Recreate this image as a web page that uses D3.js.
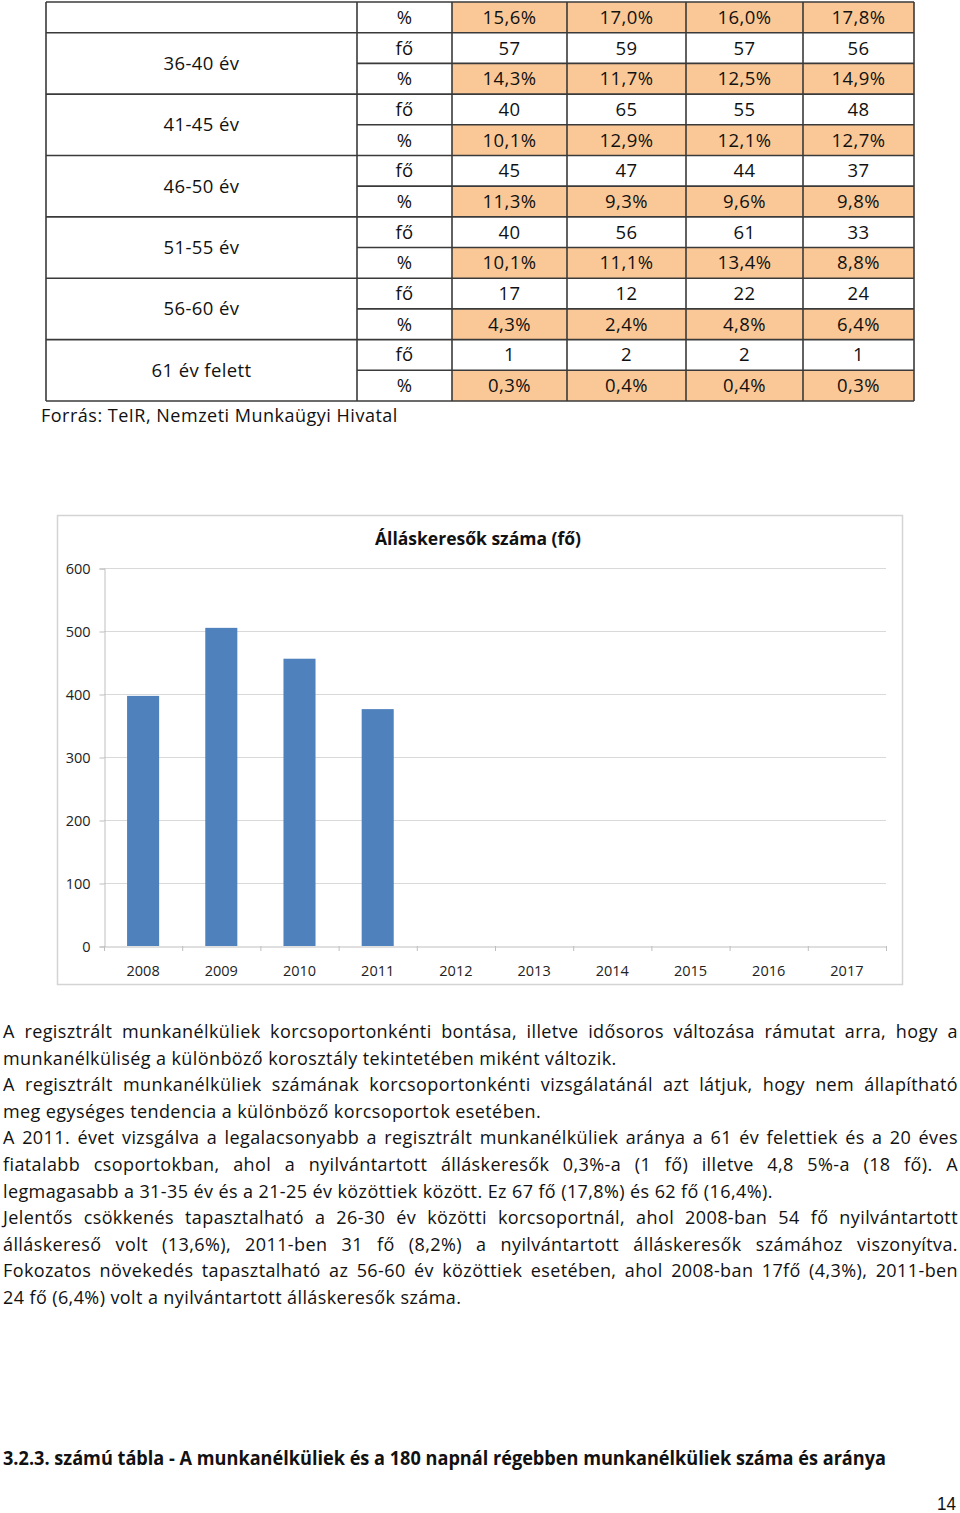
<!DOCTYPE html>
<html><head><meta charset="utf-8">
<script src="https://cdn.jsdelivr.net/npm/d3@7"></script>
<style>
html,body{margin:0;padding:0;background:#fff;}
svg{display:block;}
</style></head>
<body>
<svg id="page" width="960" height="1513"></svg>
<script>
// ---------- DATA ----------
const tableYears = ['2008','2009','2010','2011'];
const topGroupPct = ['15,6%','17,0%','16,0%','17,8%'];
const ageGroups = ['36-40 év','41-45 év','46-50 év','51-55 év','56-60 év','61 év felett'];
const groupCounts = [[57,59,57,56],[40,65,55,48],[45,47,44,37],[40,56,61,33],[17,12,22,24],[1,2,2,1]];
const groupPcts = [
  ['14,3%','11,7%','12,5%','14,9%'],
  ['10,1%','12,9%','12,1%','12,7%'],
  ['11,3%','9,3%','9,6%','9,8%'],
  ['10,1%','11,1%','13,4%','8,8%'],
  ['4,3%','2,4%','4,8%','6,4%'],
  ['0,3%','0,4%','0,4%','0,3%']
];
const sourceNote = 'Forrás: TeIR, Nemzeti Munkaügyi Hivatal';

const chartTitle = 'Álláskeresők száma (fő)';
const chartYears = ['2008','2009','2010','2011','2012','2013','2014','2015','2016','2017'];
const jobSeekers = [397, 505, 456, 376];
const yTicks = [0,100,200,300,400,500,600];

const paragraphLines = [
  ['A regisztrált munkanélküliek korcsoportonkénti bontása, illetve idősoros változása rámutat arra, hogy a', true],
  ['munkanélküliség a különböző korosztály tekintetében miként változik.', false],
  ['A regisztrált munkanélküliek számának korcsoportonkénti vizsgálatánál azt látjuk, hogy nem állapítható', true],
  ['meg egységes tendencia a különböző korcsoportok esetében.', false],
  ['A 2011. évet vizsgálva a legalacsonyabb a regisztrált munkanélküliek aránya a 61 év felettiek és a 20 éves', true],
  ['fiatalabb csoportokban, ahol a nyilvántartott álláskeresők 0,3%-a (1 fő) illetve 4,8 5%-a (18 fő). A', true],
  ['legmagasabb a 31-35 év és a 21-25 év közöttiek között. Ez 67 fő (17,8%) és 62 fő (16,4%).', false],
  ['Jelentős csökkenés tapasztalható a 26-30 év közötti korcsoportnál, ahol 2008-ban 54 fő nyilvántartott', true],
  ['álláskereső volt (13,6%), 2011-ben 31 fő (8,2%) a nyilvántartott álláskeresők számához viszonyítva.', true],
  ['Fokozatos növekedés tapasztalható az 56-60 év közöttiek esetében, ahol 2008-ban 17fő (4,3%), 2011-ben', true],
  ['24 fő (6,4%) volt a nyilvántartott álláskeresők száma.', false]
];
const nextTableTitle = '3.2.3. számú tábla - A munkanélküliek és a 180 napnál régebben munkanélküliek száma és aránya';
const pageNumber = '14';

// ---------- DRAW ----------
const FONT = '"Open Sans", Lato, sans-serif';
const svg = d3.select('#page');

// ----- Table -----
const colX = [46, 357, 452, 567, 686, 803, 914];
const tTop = 2, tBottom = 401, nRows = 13;
const rowY = d3.scaleLinear().domain([0, nRows]).range([tTop, tBottom]);
const orange = '#FAC896';
const lineCol = '#3a3a3a';
const tg = svg.append('g').attr('font-family', FONT).attr('font-size', 18.5)
  .attr('letter-spacing', 0.4).attr('fill', '#111');

const rows = [['%', topGroupPct]];
groupCounts.forEach((c, i) => { rows.push(['fő', c.map(String)]); rows.push(['%', groupPcts[i]]); });

rows.forEach((r, i) => {
  if (r[0] === '%') {
    tg.append('rect').attr('x', colX[2]).attr('y', rowY(i)).attr('width', colX[6] - colX[2]).attr('height', rowY(i+1) - rowY(i)).attr('fill', orange);
  }
});
rows.forEach((r, i) => {
  const cy = (rowY(i) + rowY(i+1)) / 2 + 6.5;
  tg.append('text').attr('x', (colX[1] + colX[2]) / 2).attr('y', cy).attr('text-anchor', 'middle').text(r[0]);
  r[1].forEach((v, j) => {
    tg.append('text').attr('x', (colX[2+j] + colX[3+j]) / 2).attr('y', cy).attr('text-anchor', 'middle').text(v);
  });
});
ageGroups.forEach((g, i) => {
  const y0 = rowY(1 + 2*i), y1 = rowY(3 + 2*i);
  tg.append('text').attr('x', (colX[0] + colX[1]) / 2).attr('y', (y0 + y1) / 2 + 6.5).attr('text-anchor', 'middle').text(g);
});
const lg = svg.append('g').attr('stroke', lineCol).attr('stroke-width', 1.6).attr('fill', 'none');
for (let i = 0; i <= nRows; i++) {
  const y = rowY(i);
  const groupLine = (i === 0 || (i % 2 === 1) || i === nRows);
  const x0 = groupLine ? colX[0] : colX[1];
  lg.append('line').attr('x1', x0).attr('x2', colX[6]).attr('y1', y).attr('y2', y);
}
colX.forEach(x => lg.append('line').attr('x1', x).attr('x2', x).attr('y1', tTop).attr('y2', tBottom));

svg.append('text').attr('x', 41).attr('y', 422).attr('font-family', FONT).attr('font-size', 18)
  .attr('letter-spacing', 0.5).attr('fill', '#111').text(sourceNote);

// ----- Chart -----
const cg = svg.append('g').attr('font-family', FONT);
cg.append('rect').attr('x', 57.5).attr('y', 515.5).attr('width', 845).attr('height', 469).attr('fill', '#fff').attr('stroke', '#d4d4d4').attr('stroke-width', 1.5);
const plot = {l: 104, r: 886, t: 568, b: 946};
const x = d3.scaleBand().domain(chartYears).range([plot.l, plot.r]).paddingInner(0.59).paddingOuter(0.295);
const xb = d3.scaleBand().domain(chartYears).range([plot.l, plot.r]);
const y = d3.scaleLinear().domain([0, 600]).range([plot.b, plot.t]);

cg.append('g').selectAll('line').data(yTicks.filter(d => d > 0)).join('line')
  .attr('x1', plot.l).attr('x2', plot.r).attr('y1', d => y(d) + 0.5).attr('y2', d => y(d) + 0.5)
  .attr('stroke', '#d9d9d9').attr('stroke-width', 1);

const yAxis = d3.axisLeft(y).tickValues(yTicks).tickSize(5).tickPadding(9).tickFormat(d3.format('d'));
const ya = cg.append('g').attr('transform', `translate(${plot.l + 0.5},0.5)`).call(yAxis);
ya.select('.domain').attr('stroke', '#bfbfbf');
ya.selectAll('.tick line').attr('stroke', '#bfbfbf');
ya.selectAll('.tick text').attr('font-family', FONT).attr('font-size', 14.5).attr('fill', '#222');

const xAxis = d3.axisBottom(xb).tickSize(0).tickPadding(19);
const xa = cg.append('g').attr('transform', `translate(0,${plot.b + 0.5})`).call(xAxis);
xa.select('.domain').attr('stroke', '#bfbfbf');
xa.selectAll('.tick text').attr('font-family', FONT).attr('font-size', 14.5).attr('fill', '#222');
const bounds = chartYears.map(d => xb(d)).concat([plot.r]);
cg.append('g').selectAll('line').data(bounds).join('line')
  .attr('x1', d => d + 0.5).attr('x2', d => d + 0.5).attr('y1', plot.b).attr('y2', plot.b + 5)
  .attr('stroke', '#bfbfbf');

cg.append('g').selectAll('rect').data(jobSeekers).join('rect')
  .attr('x', (d, i) => x(chartYears[i])).attr('width', x.bandwidth())
  .attr('y', d => y(d)).attr('height', d => y(0) - y(d))
  .attr('fill', '#4F81BD');

cg.append('text').attr('x', 478).attr('y', 545).attr('text-anchor', 'middle')
  .attr('font-weight', 'bold').attr('font-size', 17.5).attr('fill', '#111').text(chartTitle);

// ----- Paragraphs -----
const pg = svg.append('g').attr('font-family', FONT).attr('font-size', 18)
  .attr('letter-spacing', 0.4).attr('fill', '#111');
const pLeft = 3, pRight = 958, pBase = 1038, pStep = 26.6;
const lineY = d3.scaleLinear().domain([0, 1]).range([pBase, pBase + pStep]);
paragraphLines.forEach(([txt, just], i) => {
  const yy = lineY(i);
  if (!just) {
    pg.append('text').attr('x', pLeft).attr('y', yy).text(txt);
    return;
  }
  const words = txt.split(' ');
  const t = pg.append('text').attr('y', yy);
  const spans = words.map(w => t.append('tspan').text(w));
  const widths = spans.map(s => s.node().getComputedTextLength());
  const total = d3.sum(widths);
  let gap = (pRight - pLeft - total) / (words.length - 1);
  if (gap < 3) {
    const shrink = (pRight - pLeft - 3 * (words.length - 1)) / total;
    t.attr('font-size', 18 * shrink);
    const w2 = spans.map(s => s.node().getComputedTextLength());
    gap = (pRight - pLeft - d3.sum(w2)) / (words.length - 1);
    let cx = pLeft;
    spans.forEach((s, k) => { s.attr('x', cx); cx += w2[k] + gap; });
    return;
  }
  let cx = pLeft;
  spans.forEach((s, k) => { s.attr('x', cx); cx += widths[k] + gap; });
});

// ----- Bottom heading -----
svg.append('text').attr('x', 3).attr('y', 1465).attr('font-family', FONT).attr('font-weight', 'bold')
  .attr('font-size', 19).attr('fill', '#111').attr('textLength', 883).attr('lengthAdjust', 'spacingAndGlyphs')
  .text(nextTableTitle);
svg.append('text').attr('x', 937).attr('y', 1510).attr('font-family', '"Liberation Sans", sans-serif')
  .attr('font-size', 18).attr('fill', '#111').attr('textLength', 19).attr('lengthAdjust', 'spacingAndGlyphs')
  .text(pageNumber);
</script>
</body></html>
